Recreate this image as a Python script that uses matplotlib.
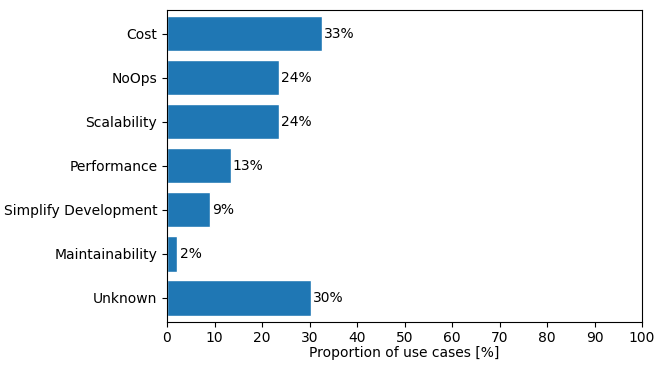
import matplotlib
matplotlib.use('Agg')
import matplotlib.pyplot as plt

categories = ['Cost', 'NoOps', 'Scalability', 'Performance',
              'Simplify Development', 'Maintainability', 'Unknown']
shares = [32.6, 23.6, 23.6, 13.4, 9.0, 2.2, 30.3]

fig = plt.figure(figsize=(6.64, 3.66), dpi=100)
ax = fig.add_axes([0.2515, 0.121, 0.7155, 0.852])

pos = list(range(len(categories)))
bars = ax.barh(pos, shares, height=0.8, color='#1f77b4',
               edgecolor='white', linewidth=1)
ax.bar_label(bars, labels=[f'{round(v)}%' for v in shares],
             padding=1.5, fontsize=10)

ax.set_yticks(pos)
ax.set_yticklabels(categories)
ax.set_ylim(len(categories) - 1 + 0.54, -0.54)
ax.set_xlim(0, 100)
ax.set_xticks(range(0, 101, 10))
ax.tick_params(labelsize=10)
ax.set_xlabel('Proportion of use cases [%]', fontsize=10, labelpad=0.5)

plt.savefig('out.png', dpi=100)
